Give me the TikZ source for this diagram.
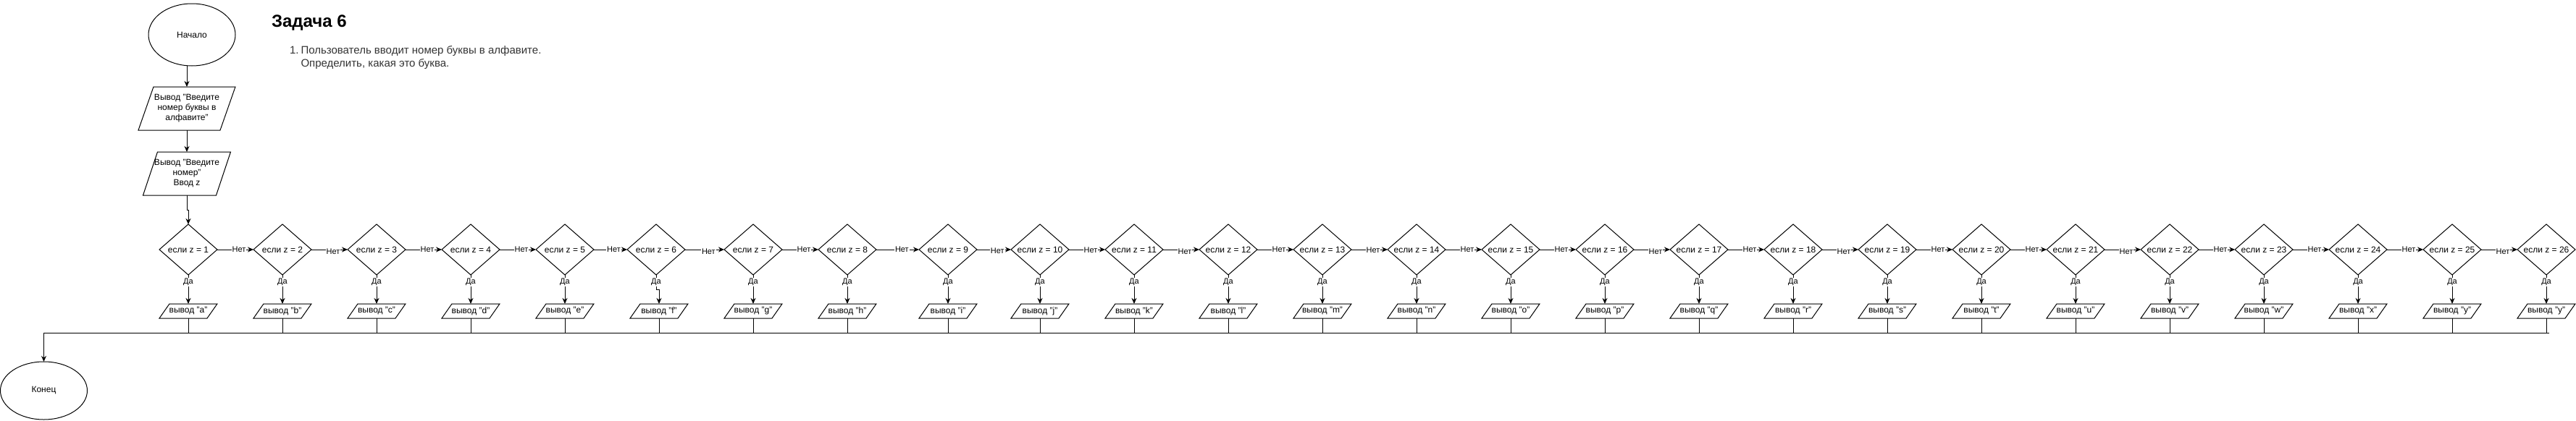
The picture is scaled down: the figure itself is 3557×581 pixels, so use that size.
\documentclass[tikz,border=0pt]{standalone}
\usepackage{fontspec}
\setmainfont{Liberation Sans}
\usetikzlibrary{shapes.geometric,arrows.meta}
\newcommand{\mkpara}[7]{%
  \node[ptext, minimum width=#4, minimum height=#5] (#1) at (#2,#3) {#7};
  \draw[shp] ([xshift=#6]#1.north west) -- (#1.north east) -- ([xshift=-#6]#1.south east) -- (#1.south west) -- cycle;
}
\begin{document}
\begin{tikzpicture}[x=1pt,y=-1pt,
  every node/.style={font=\fontsize{12}{14}\selectfont, inner sep=0pt, outer sep=0pt},
  term/.style={ellipse, draw, line width=1pt, minimum width=120pt, minimum height=80pt},
  cond/.style={diamond, draw, line width=1pt, minimum width=80pt, minimum height=70pt, aspect=1.14},
  ptext/.style={align=center},
  shp/.style={draw, line width=1pt},
  arr/.style={line width=1pt, -{Stealth[length=8pt,width=7pt]}},
  ln/.style={line width=1pt},
  lbl/.style={fill=white, inner sep=1pt, font=\fontsize{11}{13}\selectfont},
  note/.style={anchor=base west, text=black!80, font=\fontsize{15}{18}\selectfont},
]
\useasboundingbox (0,0) rectangle (3557,581);

% title and task text
\node[anchor=base west, font=\fontsize{24}{28}\selectfont\bfseries] (title) at (375,37.7) {Задача 6};
\node[note] (num) at (400,74) {1.};
\node[note] (task1) at (415.5,74) {Пользователь вводит номер буквы в алфавите.};
\node[note] (task2) at (415.5,92.3) {Определить, какая это буква.};

% start, input
\node[term, minimum height=86pt] (start) at (265,48) {Начало};
\mkpara{p1}{258}{150}{134pt}{60pt}{21pt}{Вывод "Введите\\номер буквы в\\алфавите"}
\mkpara{p2}{258}{240}{121pt}{60pt}{20pt}{Вывод "Введите\\номер"\\Ввод z}

% conditions and outputs
\foreach \i/\dx/\ox/\ch in {1/260/260/a,2/390/390/b,3/520/520/c,4/650/650/d,5/780/780/e,6/906/910/f,7/1040/1040/g,8/1170/1170/h,9/1309/1309/i,10/1436/1436/j,11/1566/1566/k,12/1696/1696/l,13/1826/1826/m,14/1956/1956/n,15/2086/2086/o,16/2216/2216/p,17/2346/2346/q,18/2476/2476/r,19/2606/2606/s,20/2736/2736/t,21/2866/2866/u,22/2996/2996/v,23/3126/3126/w,24/3256/3256/x,25/3386/3386/y,26/3516/3516/y}{
  \node[cond] (d\i) at (\dx,345) {если z = \i};
  \mkpara{o\i}{\ox}{430}{80pt}{20pt}{14pt}{вывод "\ch"}
}

% end
\node[term] (konec) at (60.5,540) {Конец};

% connectors
\draw[arr] (p1.north |- start.south) -- (p1.north);
\draw[arr] (p1.south) -- (p2.north);
\draw[arr] (p2.south) -- ++(0,20) -| (d1.north);

\foreach \i/\j/\s in {1/2/0pt,2/3/-3pt,3/4/0pt,4/5/0pt,5/6/0pt,6/7/-3pt,7/8/0pt,8/9/0pt,9/10/-2pt,10/11/-1pt,11/12/-3pt,12/13/0pt,13/14/-1pt,14/15/0pt,15/16/0pt,16/17/-3pt,17/18/0pt,18/19/-3pt,19/20/0pt,20/21/0pt,21/22/-3pt,22/23/0pt,23/24/0pt,24/25/0pt,25/26/-3pt}{
  \draw[arr] (d\i.east) -- node[lbl, pos=0.6, yshift=\s] {Нет} (d\j.west);
}

\foreach \i in {1,2,3,4,5,7,8,9,10,11,12,13,14,15,16,17,18,19,20,21,22,23,24,25,26}{
  \draw[arr] (d\i.south) -- node[lbl, pos=0.25] {Да} (o\i.north);
}
\draw[arr] (d6.south) -- node[lbl, pos=0.5] {Да} ++(0,20) -| (o6.north);

\coordinate (busR) at (3520,460);
\foreach \i in {1,...,26}{
  \draw[ln] (o\i.south) -- (o\i.south |- busR);
}
\draw[arr] (busR) -| (konec.north);
\end{tikzpicture}
\end{document}
